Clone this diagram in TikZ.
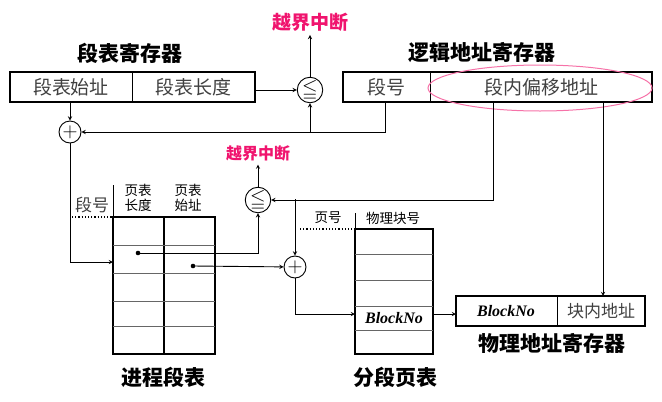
\documentclass[tikz,border=0pt]{standalone}
\usepackage{amssymb}
\usepackage{fontspec}
\setmainfont{Liberation Serif}
\newfontfamily\cjk{Noto Sans CJK SC}
\usetikzlibrary{arrows,positioning,shapes}
\definecolor{alarm}{RGB}{240,20,110}
\begin{document}
\begin{tikzpicture}[x=1pt,y=-1pt,>=stealth,line width=.9pt,
  title/.style={font=\cjk\bfseries\fontsize{21}{21}\selectfont},
  reg/.style={draw,line width=1.4pt,minimum height=30pt,inner sep=0pt},
  cell/.style={font=\cjk\fontsize{19}{19}\selectfont,text=black!75},
  small/.style={font=\cjk\fontsize{13.5}{15}\selectfont,align=center},
  alarm/.style={font=\cjk\bfseries\fontsize{19}{19}\selectfont,text=alarm},
  op/.style={draw,circle,minimum size=22pt,inner sep=0pt,font=\fontsize{20}{20}\selectfont}]
  \useasboundingbox (0,0) rectangle (662,402);
  % segment table register
  \node[title] at (130,53) {段表寄存器};
  \node[reg,minimum width=245pt] (streg) at (132.5,87) {};
  \draw (132,72) -- (132,102);
  \node[cell] at (71,87) {段表始址};
  \node[cell] at (193,87) {段表长度};
  % logical address register
  \node[title] at (482,53) {逻辑地址寄存器};
  \node[reg,minimum width=309pt] (lreg) at (497.5,87) {};
  \draw (430,72) -- (430,102);
  \node[cell] at (386,87) {段号};
  \node[cell] (off) at (541,87) {段内偏移地址};
  \draw[line width=1pt,draw=alarm!60] (540,88) ellipse (112 and 23);
  % comparators and adders
  \node[op] (cmpA) at (310,90) {$\leqq$};
  \node[op] (addA) at (70,132) {$+$};
  \node[op] (cmpB) at (258,200) {$\leqq$};
  \node[op] (addB) at (295,267) {$+$};
  \node[alarm] (intA) at (310,22) {越界中断};
  \node[alarm,font=\cjk\bfseries\fontsize{16}{16}\selectfont] (intB) at (258,153) {越界中断};
  \draw[->] (255,90) -- (cmpA);
  \draw[->] (cmpA) -- (intA);
  \draw[->] (70,102) -- (addA);
  \draw[->] (385,102) |- (addA);
  \draw[->] (310,132) -- (cmpA);
  \draw[->] (cmpB) -- (intB);
  \draw[->] (493,102) |- (cmpB);
  \draw[->] (295,199) -- (addB);
  \draw[->] (603,102) -- (603,296);
  % process segment table
  \draw[line width=1.4pt] (113,217) rectangle (215,354);
  \draw[line width=1.4pt] (164,217) -- (164,354);
  \foreach \y in {245,273,301,326} \draw[black!60] (113,\y) -- (215,\y);
  \draw (113,185) -- (113,217);
  \draw[dotted,line width=1.2pt] (72,217) -- (113,217);
  \node[cell,font=\cjk\fontsize{17}{17}\selectfont] at (92,205) {段号};
  \node[small] at (138,198) {页表\\长度};
  \node[small] at (188,198) {页表\\始址};
  \node[title] at (163,377) {进程段表};
  \draw[->] (addA) |- (113,262);
  \fill (138,253) circle (2.3) coordinate (dotA);
  \fill (193,266) circle (2.3) coordinate (dotB);
  \draw[->] (dotA) -| (cmpB);
  \draw[->] (dotB) -- (addB);
  % segment page table
  \draw[line width=1.4pt] (355,229) rectangle (433,354);
  \foreach \y in {254,280,306,330} \draw[black!60] (355,\y) -- (433,\y);
  \draw (355,213) -- (355,229);
  \draw[dotted,line width=1.2pt] (300,229) -- (355,229);
  \node[small] at (328,218) {页号};
  \node[small] at (393,218) {物理块号};
  \node[font=\bfseries\itshape\fontsize{16}{16}\selectfont] (blk) at (394,318) {BlockNo};
  \node[title] at (395,377) {分段页表};
  \draw[->] (addB) |- (355,314);
  % physical address register
  \node[reg,minimum width=189pt] (preg) at (550.5,311) {};
  \draw (557,296) -- (557,326);
  \node[font=\bfseries\itshape\fontsize{16}{16}\selectfont] at (506,311) {BlockNo};
  \node[cell,font=\cjk\fontsize{17}{17}\selectfont] at (601,311) {块内地址};
  \node[title] at (552,343) {物理地址寄存器};
  \draw[->] (433,314) -- (456,314);
\end{tikzpicture}
\end{document}
